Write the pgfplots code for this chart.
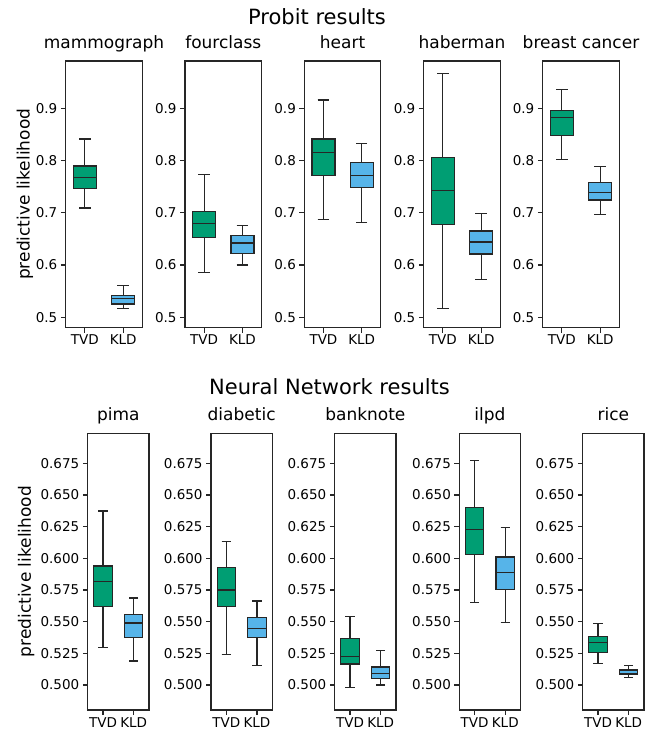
\documentclass[border=0pt]{standalone}
\usepackage{pgfplots}
\pgfplotsset{compat=1.18}
\usepgfplotslibrary{statistics}
\usepackage{fontspec}
\setmainfont{DejaVu Sans}
\definecolor{tvd}{HTML}{009E73}
\definecolor{kld}{HTML}{56B4E9}
\pgfplotsset{
  panel/.style={
    scale only axis, anchor=south west,
    xmin=0.5, xmax=2.5,
    xtick={1,2}, xticklabels={TVD,KLD},
    tick align=outside, tick pos=left, major tick length=4.9pt,
    minor tick num=0,
    axis line style={line width=1.1pt, black!85},
    every tick/.style={line width=1.1pt, black!85},
    title style={font=\fontsize{17}{20}\selectfont, anchor=base, at={(0.5,1)}, yshift=6.7pt},
    tick label style={font=\fontsize{13.5}{16}\selectfont},
    /pgf/number format/assume math mode=true,
    xticklabel style={yshift=1pt},
    boxplot/draw direction=y,
  },
  toprow/.style={panel, width=76.6pt, height=266.7pt, ymin=0.48, ymax=0.9905,
    ytick={0.5,0.6,0.7,0.8,0.9},
    yticklabel style={/pgf/number format/.cd, fixed, precision=1}},
  botrow/.style={panel, width=61.3pt, height=276.7pt, ymin=0.4803, ymax=0.6987,
    ytick={0.5,0.525,0.55,0.575,0.6,0.625,0.65,0.675},
    yticklabel style={/pgf/number format/.cd, fixed, fixed zerofill, precision=3}},
  bx/.style={line width=1.2pt, draw=black!85, fill=#1},
}
% bp{colour}{position}{lower whisker}{Q1}{median}{Q3}{upper whisker}
\newcommand{\bp}[7]{%
  \addplot[bx=#1, boxplot prepared={draw position=#2, lower whisker=#3, lower quartile=#4, median=#5, upper quartile=#6, upper whisker=#7, box extend=0.6, whisker extend=0.3}] coordinates {};}
\begin{document}
\begin{tikzpicture}
\useasboundingbox (0,0) rectangle (660pt,732pt);
\node[anchor=base, font=\fontsize{21}{24}\selectfont] at (317pt,707pt) {Probit results};
\node[anchor=base, font=\fontsize{21}{24}\selectfont] at (329.5pt,337.7pt) {Neural Network results};
\node[anchor=base, rotate=90, font=\fontsize{17}{20}\selectfont] at (29.5pt,537.7pt) {predictive likelihood};
\node[anchor=base, rotate=90, font=\fontsize{17}{20}\selectfont] at (31pt,160.3pt) {predictive likelihood};
% ---------------- top row ----------------
\begin{axis}[toprow, at={(65.7pt,404.3pt)}, title={mammograph}]
\bp{tvd}{1}{0.709}{0.747}{0.768}{0.7896}{0.841}
\bp{kld}{2}{0.517}{0.5255}{0.5357}{0.541}{0.5606}
\end{axis}
\begin{axis}[toprow, at={(185pt,404.3pt)}, title={fourclass}]
\bp{tvd}{1}{0.586}{0.6525}{0.679}{0.703}{0.773}
\bp{kld}{2}{0.600}{0.622}{0.642}{0.657}{0.6755}
\end{axis}
\begin{axis}[toprow, at={(304.3pt,404.3pt)}, title={heart}]
\bp{tvd}{1}{0.6876}{0.772}{0.815}{0.841}{0.916}
\bp{kld}{2}{0.6806}{0.749}{0.772}{0.796}{0.8324}
\end{axis}
\begin{axis}[toprow, at={(423.7pt,404.3pt)}, title={haberman}]
\bp{tvd}{1}{0.516}{0.677}{0.742}{0.806}{0.967}
\bp{kld}{2}{0.5715}{0.621}{0.644}{0.665}{0.698}
\end{axis}
\begin{axis}[toprow, at={(542.7pt,404.3pt)}, title={breast cancer}]
\bp{tvd}{1}{0.8024}{0.848}{0.883}{0.8956}{0.936}
\bp{kld}{2}{0.696}{0.7246}{0.739}{0.758}{0.789}
\end{axis}
% ---------------- bottom row ----------------
\begin{axis}[botrow, at={(87.7pt,22pt)}, title={pima}]
\bp{tvd}{1}{0.5297}{0.5618}{0.5815}{0.5939}{0.6373}
\bp{kld}{2}{0.519}{0.5373}{0.549}{0.5558}{0.5687}
\end{axis}
\begin{axis}[botrow, at={(211pt,22pt)}, title={diabetic}]
\bp{tvd}{1}{0.5242}{0.5623}{0.575}{0.5926}{0.6134}
\bp{kld}{2}{0.5153}{0.5373}{0.5447}{0.5534}{0.5663}
\end{axis}
\begin{axis}[botrow, at={(334.7pt,22pt)}, title={banknote}]
\bp{tvd}{1}{0.4979}{0.5166}{0.5226}{0.5368}{0.5539}
\bp{kld}{2}{0.5000}{0.5053}{0.5092}{0.5142}{0.5274}
\end{axis}
\begin{axis}[botrow, at={(459.3pt,22pt)}, title={ilpd}]
\bp{tvd}{1}{0.5652}{0.6031}{0.6226}{0.6404}{0.677}
\bp{kld}{2}{0.5492}{0.5752}{0.5889}{0.601}{0.6244}
\end{axis}
\begin{axis}[botrow, at={(582.7pt,22pt)}, title={rice}]
\bp{tvd}{1}{0.5171}{0.5258}{0.5337}{0.5381}{0.5484}
\bp{kld}{2}{0.5058}{0.5087}{0.5113}{0.5124}{0.5153}
\end{axis}
\end{tikzpicture}
\end{document}
